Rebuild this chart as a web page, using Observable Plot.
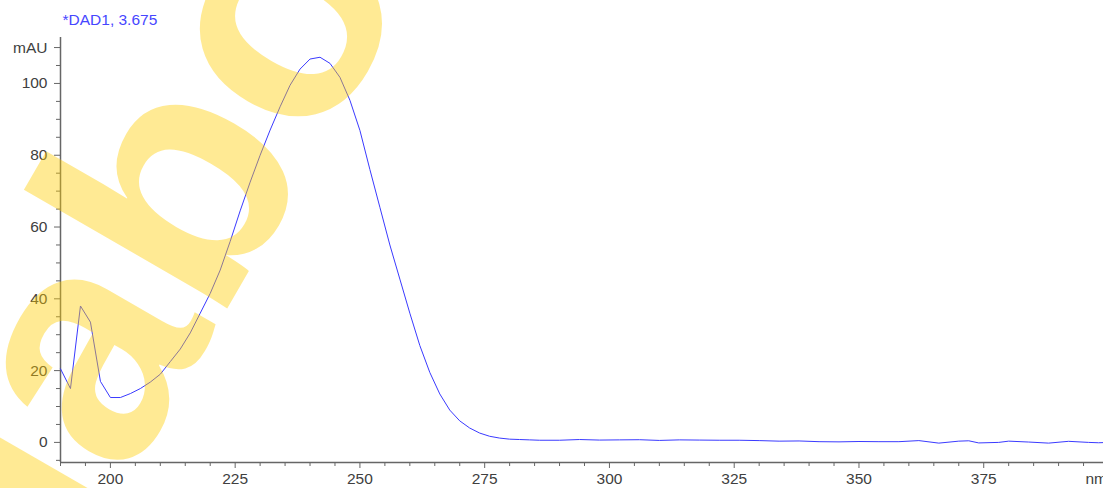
<!DOCTYPE html>
<html><head><meta charset="utf-8">
<script src="https://cdn.jsdelivr.net/npm/d3@7"></script>
<script src="https://cdn.jsdelivr.net/npm/@observablehq/plot@0.6"></script>
<style>body{margin:0;background:#fff}</style>
</head><body><div id="chart"></div>
<script>
const wavelength = [190,192,194,196,198,200,202,204,206,208,210,212,214,216,218,220,222,224,226,228,230,232,234,236,238,240,242,244,246,248,250,252,254,256,258,260,262,264,266,268,270,272,274,276,278,280,282,284,
  286,290,294,298,302,306,310,314,318,322,326,330,334,338,342,346,350,354,358,362,366,370,372,374,378,380,384,388,392,396,398,399];
const absorbance = [20.5,15,38,33.5,17,12.5,12.5,13.6,15,16.8,19,22.5,26,30.5,36,41.5,48,56,64.5,72.5,80,87,93.5,99.5,104,106.8,107.3,105.6,101.7,95.3,86.9,76,65.5,55,45.5,36,27,19.5,13.5,9,6,4,2.6,1.7,1.2,0.9,0.8,0.7,
  0.6,0.6,0.8,0.65,0.7,0.75,0.55,0.7,0.65,0.6,0.6,0.5,0.35,0.4,0.2,0.15,0.25,0.2,0.2,0.5,-0.2,0.35,0.45,-0.15,0.0,0.35,0.1,-0.2,0.3,0.0,-0.1,-0.05];
const xMajorTicks = [200,225,250,275,300,325,350,375];
const xMinorTicks = [190,195,205,210,215,220,230,235,240,245,255,260,265,270,280,285,290,295,305,310,315,320,330,335,340,345,355,360,365,370,380,385,390,395];
const yMajorTicks = [0,20,40,60,80,100,110];
const yMinorTicks = [-5,5,10,15,25,30,35,45,50,55,65,70,75,85,90,95,105];
const title = "*DAD1, 3.675";
const yUnit = "mAU";
const xUnit = "nm";
const watermark = "labo.";

const data = wavelength.map((w, i) => ({w, a: absorbance[i]}));
const xDomain = [190, 399];
const yDomain = [-5.6, 112.8];
const font = "Liberation Sans, Arial, sans-serif";

const chart = Plot.plot({
  width: 1103, height: 488,
  marginLeft: 60, marginRight: 0, marginTop: 37, marginBottom: 26,
  style: {fontFamily: font, fontSize: "15.5px", background: "#fff"},
  x: {domain: xDomain},
  y: {domain: yDomain},
  marks: [
    Plot.axisY({ticks: yMinorTicks, tickSize: 4, tickFormat: () => "", label: null, stroke: "#666"}),
    Plot.axisY({ticks: yMajorTicks, tickSize: 6, tickPadding: 7, tickFormat: d => d === 110 ? yUnit : d, label: null, stroke: "#666", fill: "#404040"}),
    Plot.axisX({ticks: xMinorTicks, tickSize: 4, tickFormat: () => "", label: null, stroke: "#666"}),
    Plot.axisX({ticks: xMajorTicks, tickSize: 6, tickPadding: 4, label: null, stroke: "#666", fill: "#404040"}),
    Plot.ruleX([xDomain[0]], {stroke: "#666", strokeWidth: 1.5}),
    Plot.ruleY([yDomain[0]], {stroke: "#666", strokeWidth: 1.5}),
    Plot.line(data, {x: "w", y: "a", stroke: "#3a3aff", strokeWidth: 1}),
    Plot.text([title], {frameAnchor: "top-left", text: d => d, textAnchor: "start", lineAnchor: "middle", dx: 2, dy: -17, fill: "#4646ff", fontSize: 15.5}),
    Plot.text([xUnit], {frameAnchor: "bottom-right", text: d => d, textAnchor: "start", lineAnchor: "top", dx: -18, dy: 10, fill: "#404040"}),
    Plot.text([watermark], {frameAnchor: "top-left", text: d => d, textAnchor: "middle", lineAnchor: "middle", dx: 120, dy: 144, rotate: -60, fontSize: 325, fontWeight: "bold", fill: "#FFCC00", fillOpacity: 0.42})
  ]
});
document.getElementById("chart").append(chart);
</script>
</body></html>
